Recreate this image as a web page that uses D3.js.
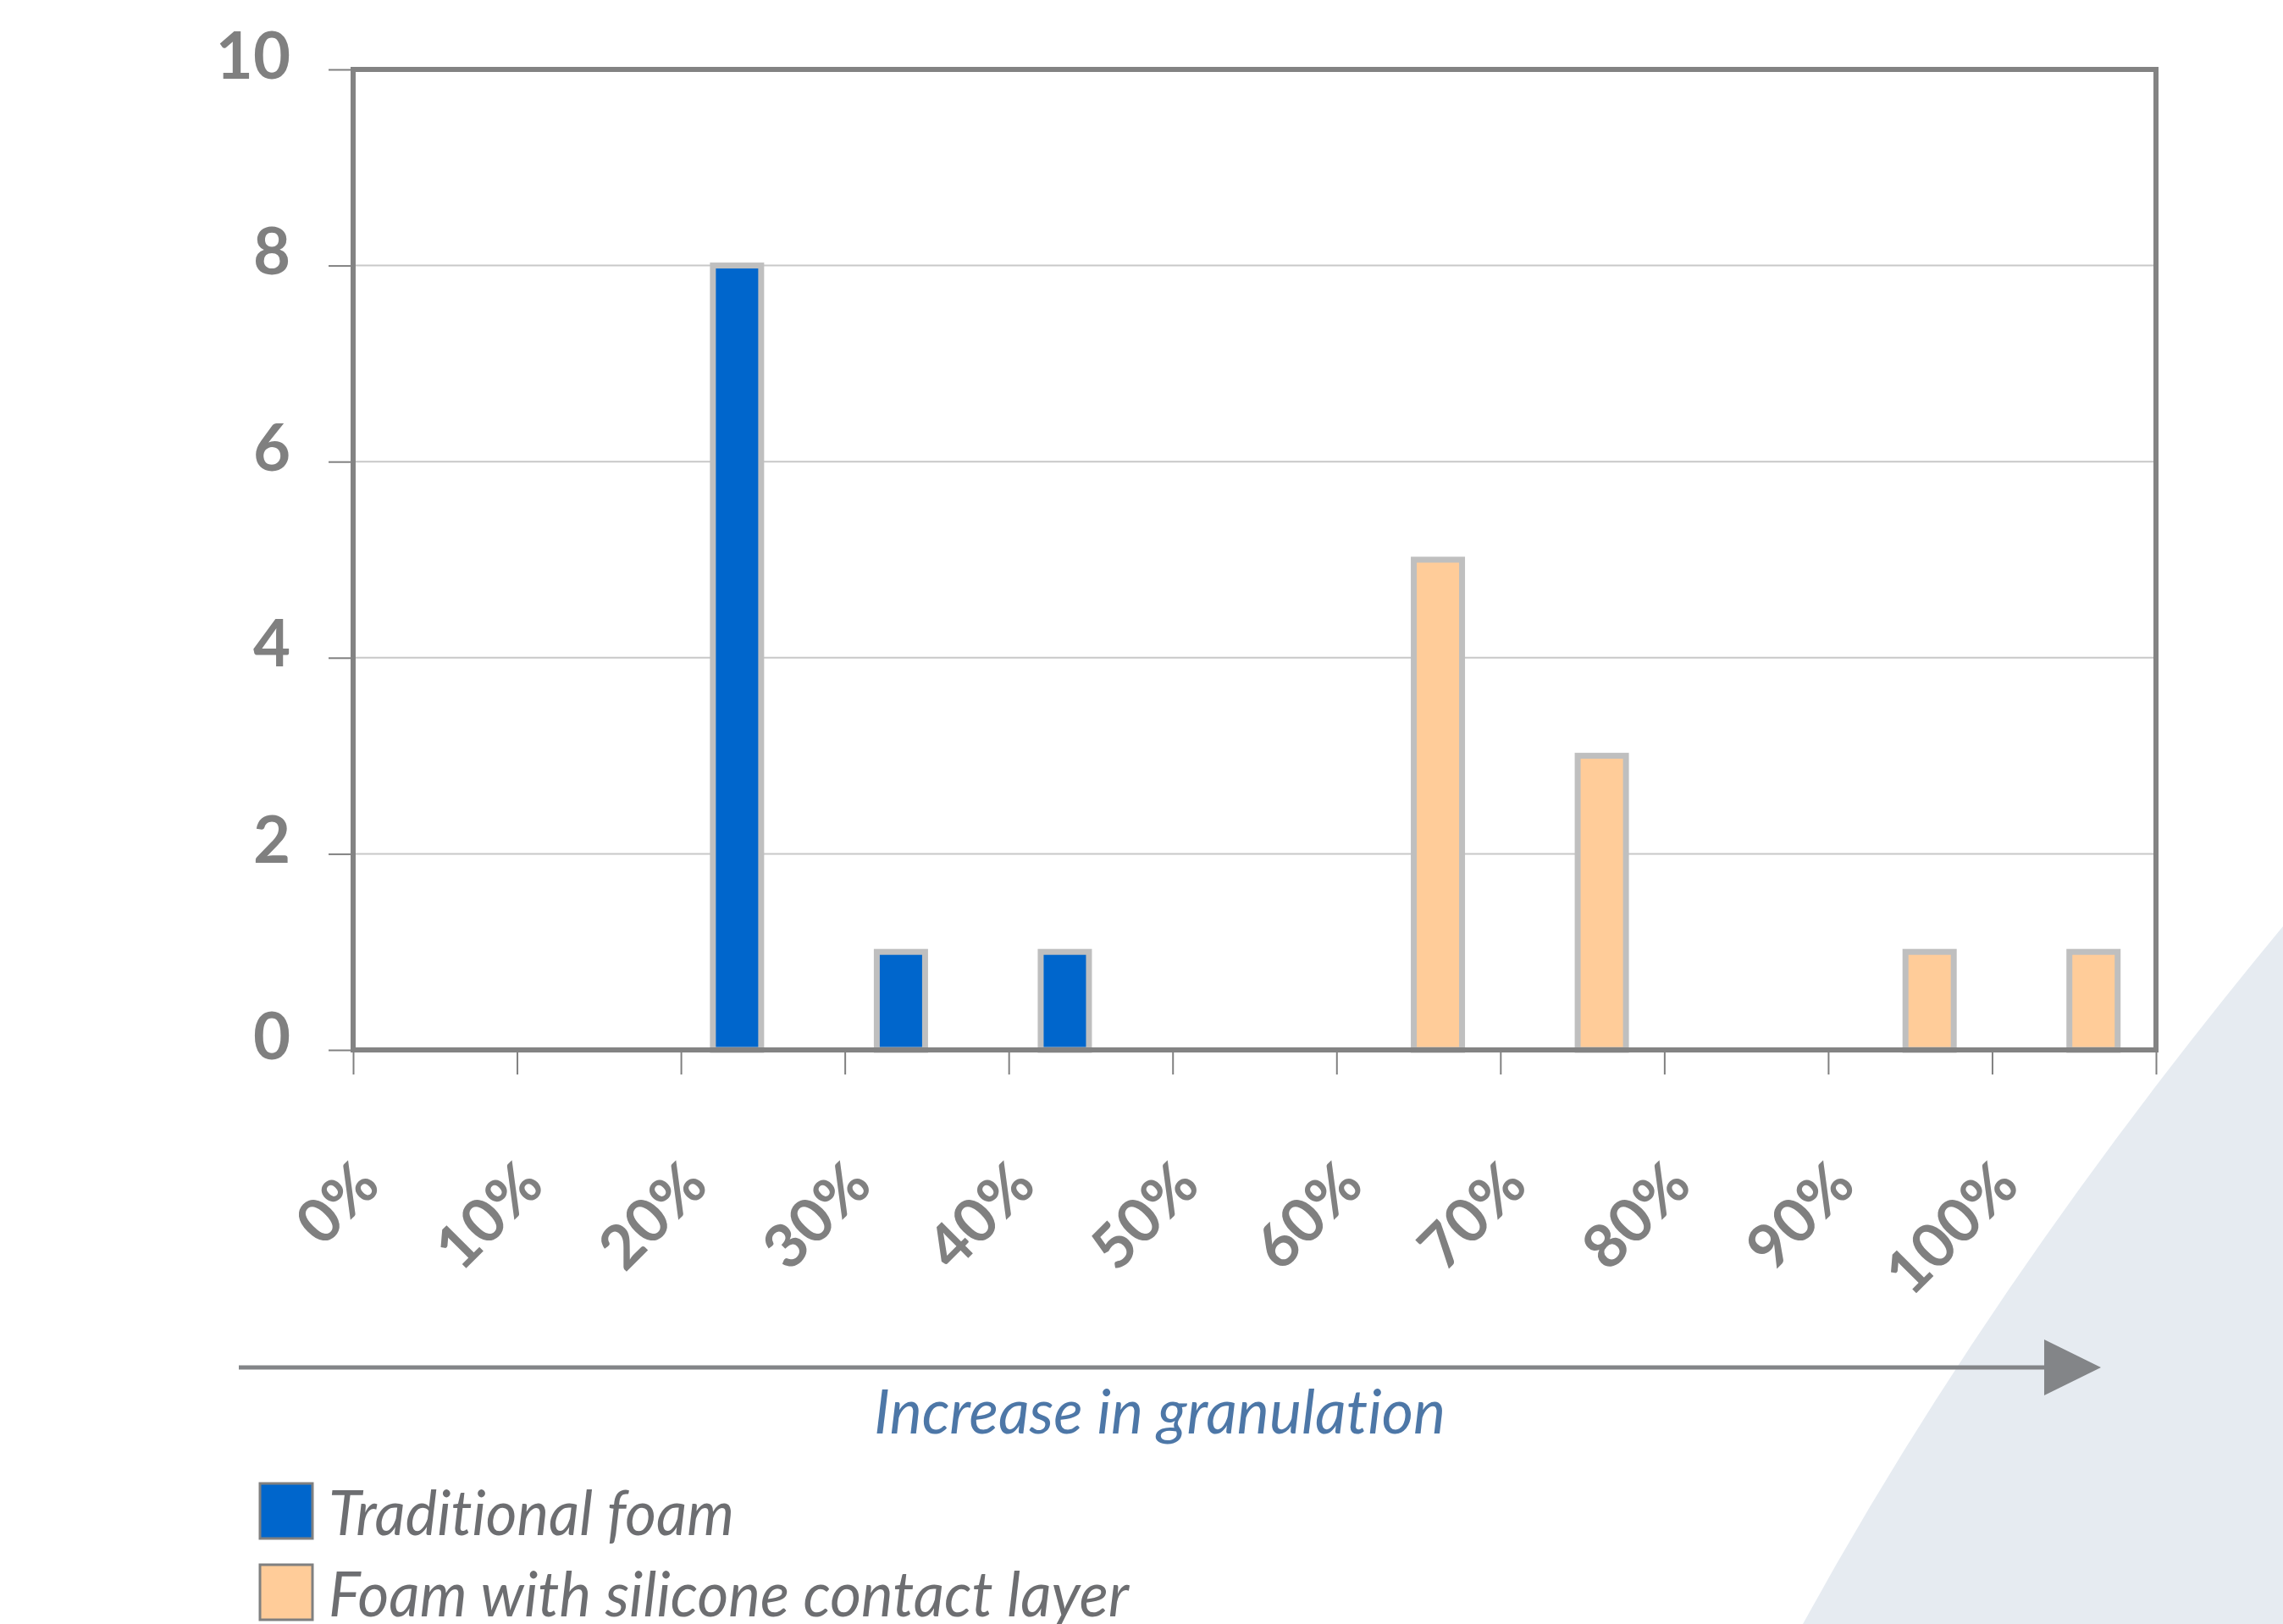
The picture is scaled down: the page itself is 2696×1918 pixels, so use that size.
<!DOCTYPE html>
<html>
<head>
<meta charset="utf-8">
<script src="https://cdn.jsdelivr.net/npm/d3@7"></script>
<style>
  body { margin: 0; background: #fff; }
  text { font-family: Lato, "Open Sans", sans-serif; font-variant-ligatures: none; }
</style>
</head>
<body>
<div id="chart-area"></div>
<script>
// chart data
const categories = ["0%", "10%", "20%", "30%", "40%", "50%", "60%", "70%", "80%", "90%", "100%"]
const traditional = [0, 0, 8, 1, 1, 0, 0, 0, 0, 0, 0]
const silicone = [0, 0, 0, 0, 0, 0, 5, 3, 0, 1, 1]
const yTicks = [0, 2, 4, 6, 8, 10]
const seriesNames = ["Traditional foam", "Foam with silicone contact layer"]
const seriesColors = ["#0066CC", "#FFCC99"]

const W = 2696, H = 1918
const plotLeft = 417, plotRight = 2546, plotTop = 82, plotBottom = 1240

let svg = d3.select("#chart-area").append("svg")
  .attr("width", W)
  .attr("height", H)

// decorative shape bottom right
svg.append("path")
  .attr("d", "M2696,1094 Q2355,1506 2129,1918 L2696,1918 Z")
  .attr("fill", "#E6EBF1")

let x = d3.scaleBand().domain(categories).range([plotLeft, plotRight])
let y = d3.scaleLinear().domain([0, 10]).range([plotBottom, plotTop])
let xEdges = d3.scaleLinear().domain([0, categories.length]).range([plotLeft, plotRight])

// plot background
svg.append("rect")
  .attr("x", plotLeft).attr("y", plotTop)
  .attr("width", plotRight - plotLeft).attr("height", plotBottom - plotTop)
  .attr("fill", "#fff")

// gridlines
svg.selectAll(".grid")
  .data(yTicks.filter(t => t > 0 && t < 10))
  .enter().append("line")
    .attr("x1", plotLeft).attr("x2", plotRight)
    .attr("y1", d => y(d)).attr("y2", d => y(d))
    .attr("stroke", "#C8C8C8")
    .attr("stroke-width", 2)

// y axis
let yAxis = svg.append("g")
  .attr("transform", `translate(${plotLeft},0)`)
  .call(d3.axisLeft(y).tickValues(yTicks).tickSize(29).tickPadding(45))
yAxis.select(".domain").remove()
yAxis.selectAll("line").attr("stroke", "#808080").attr("stroke-width", 2)
yAxis.selectAll("text")
  .attr("dy", null)
  .attr("y", 10)
  .attr("fill", "#808080")
  .style("font-size", "76px")
  .style("font-weight", "bold")

// x tick marks at category edges
let xAxis = svg.append("g")
  .attr("transform", `translate(0,${plotBottom})`)
  .call(d3.axisBottom(xEdges).tickValues(d3.range(categories.length + 1)).tickSize(29).tickFormat(""))
xAxis.select(".domain").remove()
xAxis.selectAll("line").attr("stroke", "#808080").attr("stroke-width", 2)

// x labels, rotated
svg.selectAll(".xlabel")
  .data(categories)
  .enter().append("text")
    .attr("transform", d => `translate(${x(d) + x.bandwidth() / 2 - 62},1403) rotate(-45)`)
    .attr("text-anchor", "end")
    .attr("fill", "#808080")
    .style("font-size", "72px")
    .style("font-weight", "bold")
    .text(d => d)

// bars
const barW = 57
const offsets = [-59, -5.5]
let series = [traditional, silicone]
series.forEach((values, s) => {
  let rows = categories.map((c, i) => ({ cat: c, value: values[i] })).filter(r => r.value > 0)
  svg.selectAll(".bar" + s)
    .data(rows)
    .enter().append("rect")
      .attr("x", r => x(r.cat) + x.bandwidth() / 2 + offsets[s])
      .attr("y", r => y(r.value))
      .attr("width", barW)
      .attr("height", r => y(0) - y(r.value))
      .attr("fill", seriesColors[s])
      .attr("stroke", "#BFBFBF")
      .attr("stroke-width", 7)
})

// frame
svg.append("rect")
  .attr("x", plotLeft).attr("y", plotTop)
  .attr("width", plotRight - plotLeft).attr("height", plotBottom - plotTop)
  .attr("fill", "none")
  .attr("stroke", "#838383")
  .attr("stroke-width", 6)

// arrow
svg.append("line")
  .attr("x1", 282).attr("x2", 2416)
  .attr("y1", 1615).attr("y2", 1615)
  .attr("stroke", "#838588")
  .attr("stroke-width", 5)
svg.append("path")
  .attr("d", "M2414,1582 L2481,1615 L2414,1648 Z")
  .attr("fill", "#838588")

// axis title
svg.append("text")
  .attr("x", 1032).attr("y", 1693)
  .attr("fill", "#4D77A7")
  .attr("textLength", 675)
  .attr("lengthAdjust", "spacingAndGlyphs")
  .style("font-size", "72px")
  .style("font-style", "italic")
  .text("Increase in granulation")

// legend
const legendY = [1752, 1848]
const legendLen = [479, 945]
seriesNames.forEach((name, i) => {
  svg.append("rect")
    .attr("x", 307).attr("y", legendY[i])
    .attr("width", 62).attr("height", 65)
    .attr("fill", seriesColors[i])
    .attr("stroke", "#808080")
    .attr("stroke-width", 3)
  svg.append("text")
    .attr("x", 388).attr("y", legendY[i] + 61)
    .attr("fill", "#6D6E71")
    .attr("textLength", legendLen[i])
    .attr("lengthAdjust", "spacingAndGlyphs")
    .style("font-size", "74px")
    .style("font-style", "italic")
    .text(name)
})
</script>
</body>
</html>
